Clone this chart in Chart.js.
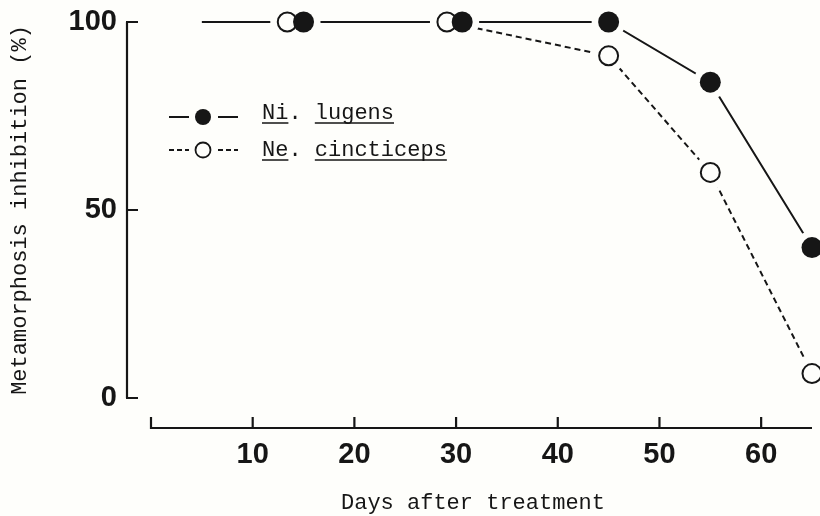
<!DOCTYPE html>
<html>
<head>
<meta charset="utf-8">
<script src="https://cdn.jsdelivr.net/npm/chart.js@4"></script>
<style>
  html, body { margin: 0; padding: 0; background: #fefefb; }
  #wrap { width: 820px; height: 516px; }
</style>
</head>
<body>
<div id="wrap"><canvas id="myChart"></canvas></div>
<script>
// values (days after treatment, % inhibition)
const luDays = [5, 15, 30.6, 45, 55, 65];
const luValues = [100, 100, 100, 100, 84, 40];
const ciDays = [13.4, 29.1, 45, 55, 65];
const ciValues = [100, 100, 91, 60, 6.5];
const xTicks = [10, 20, 30, 40, 50, 60];
const yTicks = [0, 50, 100];
const seriesNames = [['Ni', 'lugens'], ['Ne', 'cincticeps']];

const ink = '#161616';
const paper = '#fefefb';
const mono = '"Liberation Mono", monospace';
const sans = '"Liberation Sans", Arial, sans-serif';

const toPoints = (xs, ys) => xs.map((x, i) => ({ x: x, y: ys[i] }));
const luPoints = toPoints(luDays, luValues);
const ciPoints = toPoints(ciDays, ciValues);

// first lugens point only starts the line, no marker there
const luRadius = r => ctx => ctx.dataIndex === 0 ? 0 : r;

// no extra room for the outer tick labels
const noPad = s => { s.paddingTop = 0; s.paddingBottom = 0; s.paddingLeft = 0; s.paddingRight = 0; };

const axesPlugin = {
  id: 'axes',
  beforeDatasetsDraw(chart) {
    const { ctx, scales: { x, y } } = chart;
    const yAxisX = x.getPixelForValue(0) - 24;
    const xAxisY = y.getPixelForValue(0) + 30;
    ctx.save();
    ctx.strokeStyle = ink;
    ctx.lineWidth = 2.2;
    ctx.beginPath();
    ctx.moveTo(yAxisX, y.getPixelForValue(100));
    ctx.lineTo(yAxisX, y.getPixelForValue(0));
    yTicks.forEach(v => {
      const py = y.getPixelForValue(v);
      ctx.moveTo(yAxisX - 1, py);
      ctx.lineTo(yAxisX + 11, py);
    });
    ctx.moveTo(x.getPixelForValue(0) - 1, xAxisY);
    ctx.lineTo(x.getPixelForValue(65), xAxisY);
    [0].concat(xTicks).forEach(v => {
      const px = x.getPixelForValue(v);
      ctx.moveTo(px, xAxisY + 1);
      ctx.lineTo(px, xAxisY - 11);
    });
    ctx.stroke();

    // x axis title
    ctx.fillStyle = ink;
    ctx.font = '22px ' + mono;
    ctx.textAlign = 'center';
    ctx.textBaseline = 'alphabetic';
    ctx.fillText('Days after treatment', 473, 509);
    ctx.restore();
  },
  afterDraw(chart) {
    const ctx = chart.ctx;
    ctx.save();
    const rows = [{ y: 117, ty: 119, filled: true }, { y: 150, ty: 156, filled: false }];
    rows.forEach((row, i) => {
      ctx.strokeStyle = ink;
      ctx.lineWidth = 2;
      ctx.setLineDash(row.filled ? [] : [5, 3]);
      ctx.beginPath();
      ctx.moveTo(169, row.y); ctx.lineTo(189, row.y);
      ctx.moveTo(218, row.y); ctx.lineTo(238, row.y);
      ctx.stroke();
      ctx.setLineDash([]);
      ctx.beginPath();
      ctx.arc(203, row.y, row.filled ? 8 : 7.5, 0, Math.PI * 2);
      if (row.filled) { ctx.fillStyle = ink; ctx.fill(); }
      else { ctx.fillStyle = paper; ctx.fill(); ctx.lineWidth = 1.8; ctx.stroke(); }

      const [genus, species] = seriesNames[i];
      ctx.font = '22px ' + mono;
      ctx.fillStyle = ink;
      ctx.textAlign = 'left';
      ctx.textBaseline = 'alphabetic';
      const cw = ctx.measureText('M').width;
      const tx = 262;
      ctx.fillText(genus + '. ' + species, tx, row.ty);
      ctx.lineWidth = 1.5;
      ctx.beginPath();
      ctx.moveTo(tx, row.ty + 4); ctx.lineTo(tx + genus.length * cw, row.ty + 4);
      const sx = tx + (genus.length + 2) * cw;
      ctx.moveTo(sx, row.ty + 4); ctx.lineTo(sx + species.length * cw, row.ty + 4);
      ctx.stroke();
    });
    ctx.restore();
  }
};

const data = {
  datasets: [
    { // 0: lugens markers (drawn last)
      data: luPoints, showLine: false,
      pointRadius: luRadius(10.5), pointBackgroundColor: ink, pointBorderWidth: 0,
      clip: false
    },
    { // 1: cincticeps markers
      data: ciPoints, showLine: false,
      pointRadius: 9.5, pointBackgroundColor: paper, pointBorderColor: ink, pointBorderWidth: 2,
      clip: false
    },
    { // 2: gaps around lugens markers
      data: luPoints, showLine: false,
      pointRadius: luRadius(17), pointBackgroundColor: paper, pointBorderWidth: 0,
      clip: false
    },
    { // 3: gaps around cincticeps markers
      data: ciPoints, showLine: false,
      pointRadius: 17, pointBackgroundColor: paper, pointBorderWidth: 0,
      clip: false
    },
    { // 4: lugens line
      data: luPoints, showLine: true, pointRadius: 0,
      borderColor: ink, borderWidth: 2, tension: 0, clip: false
    },
    { // 5: cincticeps line
      data: ciPoints, showLine: true, pointRadius: 0,
      borderColor: ink, borderWidth: 2, borderDash: [6, 4], tension: 0, clip: false
    }
  ]
};

const config = {
  type: 'scatter',
  data: data,
  options: {
    responsive: true,
    maintainAspectRatio: false,
    animation: false,
    events: [],
    layout: { autoPadding: false, padding: { top: 22, right: 8, left: 0, bottom: 0 } },
    plugins: { legend: { display: false }, tooltip: { enabled: false } },
    scales: {
      x: {
        type: 'linear', min: 0, max: 65,
        grid: { display: false, drawTicks: false }, border: { display: false },
        ticks: {
          stepSize: 10, includeBounds: false, padding: 40,
          color: ink, font: { family: sans, size: 29, weight: 'bold' },
          callback: v => xTicks.includes(v) ? String(v) : ''
        },
        afterFit: s => { s.height = 118; noPad(s); }
      },
      y: {
        type: 'linear', min: 0, max: 100,
        grid: { display: false, drawTicks: false }, border: { display: false },
        ticks: {
          stepSize: 50, padding: 34,
          color: ink, font: { family: sans, size: 29, weight: 'bold' },
          callback: v => yTicks.includes(v) ? String(v) : ''
        },
        title: {
          display: true, text: 'Metamorphosis inhibition (%)',
          color: ink, font: { family: mono, size: 22 },
          padding: { top: 7, bottom: 0 }
        },
        afterFit: s => { s.width = 151; noPad(s); }
      }
    }
  },
  plugins: [axesPlugin]
};

const myChart = new Chart(document.getElementById('myChart'), config);
</script>
</body>
</html>
